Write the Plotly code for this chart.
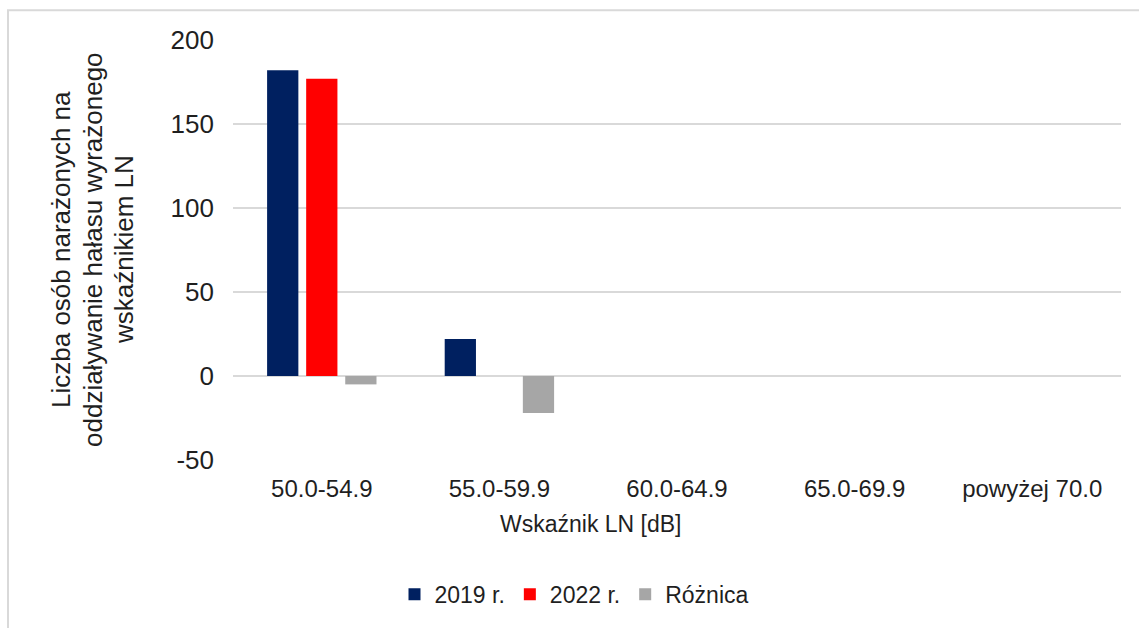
import plotly.graph_objects as go

categories = ["50.0-54.9", "55.0-59.9", "60.0-64.9", "65.0-69.9", "powyżej 70.0"]
values_2019 = [182, 22, 0, 0, 0]
values_2022 = [177, 0, 0, 0, 0]
values_diff = [-5, -22, 0, 0, 0]
series_names = ["2019 r.", "2022 r.", "Różnica"]
y_ticks = [-50, 0, 50, 100, 150, 200]
y_ticktext = ["-50", "0", "50", "100", "150", "200"]
y_title_lines = ["Liczba osób narażonych na", "oddziaływanie hałasu wyrażonego", "wskaźnikiem LN"]

FONT = "Liberation Sans, Arial, sans-serif"
TXT = "#1f1f1f"
W, H = 1139, 628
ML, MR, MT, MB = 233, 18, 40, 166
PW, PH = W - ML - MR, H - MT - MB

fig = go.Figure()
for name, vals, col in zip(series_names, [values_2019, values_2022, values_diff],
                           ["#002060", "#ff0000", "#a6a6a6"]):
    fig.add_trace(go.Bar(x=categories, y=vals, name=name, marker_color=col,
                         marker_line_width=0))

def px_x(p):
    return (p - ML) / PW

def px_y(p):
    return (MT + PH - p) / PH

annotations = []
for line, xp in zip(y_title_lines, [61, 93, 124]):
    annotations.append(dict(text=line, textangle=-90, xref="paper", yref="paper",
                            x=px_x(xp), y=px_y(251), xanchor="center", yanchor="middle",
                            showarrow=False, font=dict(size=26, color=TXT)))
annotations.append(dict(text="Wskaźnik LN [dB]", xref="paper", yref="paper",
                        x=px_x(591), y=px_y(526), xanchor="center", yanchor="middle",
                        showarrow=False, font=dict(size=23, color=TXT)))

fig.update_layout(
    width=W, height=H,
    margin=dict(l=ML, r=MR, t=MT, b=MB),
    paper_bgcolor="white", plot_bgcolor="white",
    font=dict(family=FONT, color=TXT, size=23),
    barmode="group", bargap=0.34, bargroupgap=0.2,
    showlegend=True,
    legend=dict(orientation="h", xanchor="center", x=px_x(574), yanchor="middle",
                y=px_y(597), font=dict(size=23, color=TXT), itemwidth=30,
                bgcolor="rgba(0,0,0,0)", traceorder="normal"),
    xaxis=dict(showgrid=False, showline=False, ticks="", zeroline=False,
               tickfont=dict(size=24, color=TXT), ticklabelstandoff=12,
               fixedrange=True),
    yaxis=dict(range=[-50, 200], tickvals=y_ticks, ticktext=y_ticktext, showgrid=True,
               gridcolor="#d9d9d9", gridwidth=1.5, zeroline=True,
               zerolinecolor="#d9d9d9", zerolinewidth=1.5, showline=False,
               ticks="", tickfont=dict(size=26, color=TXT), ticklabelstandoff=18),
    annotations=annotations,
    shapes=[
        dict(type="rect", xref="paper", yref="paper",
             x0=px_x(8), x1=px_x(1160), y0=px_y(10), y1=px_y(660),
             line=dict(color="#d9d9d9", width=2), fillcolor="rgba(0,0,0,0)",
             layer="below"),
    ],
)

fig.write_html("out.html")
